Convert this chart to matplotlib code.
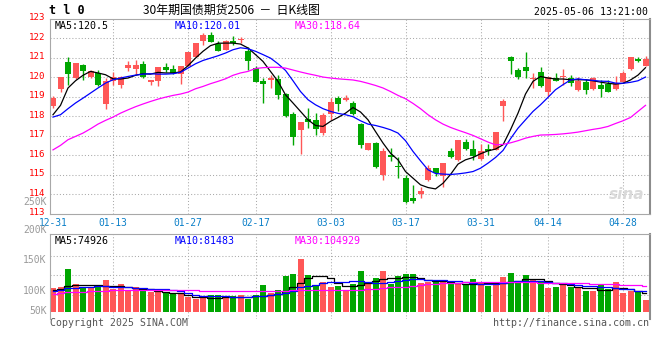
import matplotlib
matplotlib.use("Agg")
import matplotlib.pyplot as plt
from matplotlib.transforms import ScaledTranslation

# daily bars 2024-12-31 .. 2025-05-06 (T2506)
opens = [118.50, 119.38, 120.77, 119.95, 120.62, 119.98, 120.21, 118.62, 119.81, 119.61,
         120.46, 120.41, 120.68, 119.73, 119.81, 120.51, 120.43, 120.15, 120.58, 121.04,
         121.86, 122.17, 121.69, 121.40, 121.83, 121.88, 121.35, 120.46, 119.81, 119.86,
         119.91, 119.13, 118.10, 117.30, 117.85, 117.78, 117.13, 118.10, 118.92, 118.82,
         118.67, 117.59, 116.27, 116.62, 114.99, 116.02, 115.45, 114.85, 113.79, 114.02,
         114.74, 115.33, 114.91, 116.22, 115.76, 116.67, 116.31, 115.81, 116.31, 116.27,
         118.50, 121.03, 120.34, 120.51, 119.88, 120.26, 119.26, 119.95, 119.98, 119.95,
         119.35, 119.74, 119.40, 119.61, 119.64, 119.40, 119.74, 120.41, 120.92, 120.55]
highs = [119.01, 119.98, 121.03, 120.72, 120.67, 120.38, 120.38, 119.95, 120.24, 120.03,
         120.80, 120.87, 120.80, 119.86, 120.51, 120.72, 120.63, 120.55, 121.30, 121.74,
         122.26, 122.31, 121.83, 121.88, 122.09, 122.03, 121.52, 120.55, 119.95, 120.09,
         120.09, 119.18, 118.19, 117.69, 118.41, 118.15, 118.15, 118.92, 119.01, 119.06,
         118.75, 117.64, 116.62, 116.67, 116.36, 116.36, 115.93, 114.99, 114.48, 114.36,
         115.50, 115.36, 115.59, 116.36, 116.79, 116.84, 116.79, 116.56, 116.56, 117.18,
         118.89, 121.09, 120.46, 121.28, 120.21, 120.51, 120.00, 120.21, 120.41, 120.09,
         119.98, 119.91, 119.98, 119.86, 119.86, 120.03, 120.29, 121.01, 121.03, 121.06]
lows = [118.41, 119.23, 119.61, 119.91, 119.86, 119.95, 119.52, 118.38, 119.61, 119.44,
        120.29, 120.17, 119.95, 119.61, 119.56, 120.26, 120.15, 119.66, 120.58, 121.04,
        121.66, 121.81, 121.32, 121.40, 121.62, 121.74, 120.38, 119.74, 118.67, 119.44,
        118.89, 117.95, 116.53, 116.07, 117.38, 117.04, 117.04, 117.81, 118.27, 118.75,
        118.07, 116.36, 116.27, 115.33, 114.74, 115.71, 114.85, 113.54, 113.54, 113.79,
        114.65, 114.91, 114.39, 115.85, 115.71, 116.27, 115.76, 115.76, 116.02, 116.24,
        117.76, 120.17, 119.91, 119.95, 119.44, 119.47, 119.04, 119.78, 119.61, 119.52,
        119.30, 119.13, 119.35, 118.97, 119.23, 119.35, 119.74, 120.38, 120.77, 120.55]
closes = [118.92, 119.98, 120.15, 120.72, 120.29, 120.32, 119.61, 119.81, 119.98, 119.98,
          120.62, 120.62, 119.98, 119.86, 120.51, 120.34, 120.21, 120.55, 121.30, 121.74,
          122.17, 121.81, 121.35, 121.83, 121.76, 121.97, 120.80, 119.74, 119.66, 119.95,
          119.09, 117.98, 116.91, 117.69, 117.69, 117.35, 118.07, 118.72, 118.62, 118.92,
          118.10, 116.53, 116.62, 115.37, 116.22, 115.88, 115.37, 113.62, 113.66, 114.14,
          115.33, 115.08, 115.59, 115.88, 116.79, 116.31, 115.98, 116.19, 116.19, 117.18,
          118.79, 120.80, 120.00, 120.32, 119.95, 119.52, 120.00, 119.78, 120.03, 119.69,
          119.78, 119.35, 119.95, 119.40, 119.26, 119.69, 120.21, 121.01, 120.80, 120.92]

ma5 = [118.07, 118.55, 119.44, 119.81, 120.09, 120.29, 120.21, 120.12, 119.91, 119.90,
       119.95, 120.09, 120.17, 120.15, 120.24, 120.21, 120.21, 120.26, 120.58, 120.97,
       121.32, 121.61, 121.73, 121.74, 121.74, 121.69, 121.49, 121.15, 120.80, 120.29,
       119.78, 119.09, 118.67, 118.24, 117.81, 117.52, 117.47, 117.73, 117.93, 118.15,
       118.44, 118.21, 117.81, 117.21, 116.62, 116.10, 115.76, 115.16, 114.82, 114.48,
       114.34, 114.27, 114.56, 115.01, 115.54, 115.76, 115.88, 116.07, 116.22, 116.31,
       116.53, 117.30, 118.15, 119.13, 119.78, 120.03, 119.95, 119.90, 119.90, 119.86,
       119.86, 119.86, 119.81, 119.74, 119.68, 119.64, 119.68, 119.85, 120.10, 120.48]
ma10 = [117.95, 118.07, 118.38, 118.67, 118.92, 119.18, 119.44, 119.69, 119.86, 119.95,
        120.03, 120.10, 120.15, 120.17, 120.15, 120.15, 120.17, 120.24, 120.46, 120.68,
        120.85, 120.97, 121.09, 121.23, 121.40, 121.50, 121.45, 121.32, 121.15, 120.97,
        120.68, 120.34, 119.81, 119.26, 118.84, 118.58, 118.38, 118.24, 118.14, 118.07,
        117.97, 117.76, 117.59, 117.52, 117.42, 117.30, 117.13, 116.74, 116.19, 115.71,
        115.25, 115.06, 115.03, 115.01, 115.04, 115.09, 115.16, 115.33, 115.59, 115.88,
        116.24, 116.84, 117.38, 117.81, 118.24, 118.58, 118.96, 119.35, 119.61, 119.85,
        119.91, 119.86, 119.83, 119.79, 119.78, 119.69, 119.68, 119.73, 119.81, 120.00]
ma30 = [116.27, 116.50, 116.79, 116.96, 117.13, 117.35, 117.59, 117.78, 117.95, 118.15,
        118.32, 118.48, 118.62, 118.75, 118.87, 118.97, 119.06, 119.13, 119.23, 119.40,
        119.52, 119.66, 119.78, 119.91, 120.09, 120.21, 120.29, 120.44, 120.48, 120.50,
        120.50, 120.46, 120.36, 120.26, 120.17, 120.09, 120.00, 119.95, 119.91, 119.88,
        119.85, 119.78, 119.68, 119.57, 119.44, 119.26, 119.06, 118.89, 118.65, 118.38,
        118.07, 117.81, 117.59, 117.42, 117.28, 117.15, 117.01, 116.84, 116.67, 116.53,
        116.55, 116.63, 116.74, 116.87, 116.96, 117.03, 117.04, 117.06, 117.09, 117.13,
        117.18, 117.25, 117.32, 117.38, 117.47, 117.62, 117.76, 117.93, 118.24, 118.55]

# volume in thousands of lots
vol = [95.4, 100.8, 172.9, 111.7, 98.1, 98.1, 103.5, 128.0, 91.3, 111.7,
       87.2, 98.1, 91.3, 80.4, 88.6, 75.0, 70.9, 75.0, 60.0, 50.5,
       64.1, 66.8, 66.8, 64.1, 64.1, 68.2, 50.5, 68.2, 107.6, 75.0,
       87.2, 145.7, 152.5, 213.7, 148.4, 107.6, 118.5, 100.8, 104.9, 87.2,
       111.7, 166.1, 111.7, 136.2, 166.1, 111.7, 145.7, 152.5, 152.5, 115.8,
       121.2, 125.3, 122.6, 111.7, 111.7, 111.7, 132.1, 114.4, 104.9, 114.4,
       141.6, 156.6, 122.6, 149.8, 132.1, 118.5, 95.4, 98.1, 114.4, 98.1,
       98.1, 84.5, 84.5, 107.6, 91.3, 121.2, 75.0, 84.5, 80.4, 46.4]
vol_ma5 = [85.8, 91.3, 104.9, 109, 109, 109, 109, 106, 105, 103.5,
           98, 95, 92.6, 90, 84.5, 79, 76, 73.6, 65.4, 60,
           58.6, 56, 54.6, 57.3, 57.3, 58.6, 60, 62.7, 64, 66.8,
           71, 81.8, 100.8, 114.4, 136, 145.7, 145.7, 136, 117, 106,
           104.9, 109, 114.4, 125.3, 133.4, 136, 136, 139, 139, 136,
           128, 125.3, 122.6, 118.5, 114.4, 111.7, 111.7, 111.7, 114.4, 114.4,
           115.8, 119.8, 122.6, 130.7, 132.1, 130.7, 125.3, 117, 111.7, 106.2,
           100.8, 96.7, 94, 88.6, 88.6, 96.7, 95.4, 91.3, 84.5, 76.3]
vol_ma10 = [84.5, 88.6, 95.4, 96.7, 98.1, 99.4, 102.2, 102.2, 100.8, 100.8,
            99.4, 96.7, 94, 91.3, 91.3, 90, 85.8, 83.1, 73.6, 68.2,
            64.1, 64.1, 62.7, 61.4, 60, 60, 60, 61.4, 62.7, 65.4,
            69.5, 73.6, 81.8, 98.1, 102.2, 107.6, 114.4, 118.5, 119.8, 121.2,
            123.9, 123.9, 121.2, 114.4, 117, 119.8, 122.6, 126.6, 130.7, 132.1,
            129.4, 128, 128, 125.3, 122.6, 118.5, 115.8, 111.7, 111.7, 111.7,
            114.4, 118.5, 122.6, 123.9, 125.3, 122.6, 118.5, 117, 115.8, 111.7,
            106.2, 103.5, 102.2, 98.1, 98.1, 95.4, 92.6, 90, 84.5, 81.8]
vol_ma30 = [70.9, 75, 77.7, 79, 80.4, 81.8, 84.5, 84.5, 85.8, 87.2,
            87.2, 88.6, 88.6, 88.6, 88.6, 88.6, 88.6, 88.6, 88.6, 88.6,
            84.5, 84.5, 83.1, 83.1, 81.8, 81.8, 81.8, 81.8, 83.1, 83.1,
            84.5, 84.5, 85.8, 87.2, 87.2, 87.2, 87.2, 85.8, 87.2, 87.2,
            88.6, 88.6, 90, 92.6, 95.4, 98.1, 98.1, 100.8, 103.5, 107.6,
            110.3, 113, 114.4, 117, 117, 118.5, 118.5, 118.5, 119.8, 119.8,
            121.2, 121.2, 119.8, 118.5, 118.5, 117, 117, 115.8, 115.8, 114.4,
            114.4, 114.4, 113, 113, 111.7, 110.3, 109, 107.6, 106.2, 103.5]

date_labels = ["12-31", "01-13", "01-27", "02-17", "03-03", "03-17", "03-31", "04-14", "04-28"]
date_pos = [0, 8, 18, 27, 37, 47, 57, 66, 76]
price_ticks = list(range(113, 124))
vol_labels = ["250K", "200K", "150K", "100K", "50K"]

RED = "#ff5757"
GREEN = "#00a600"
GRID = "#aaaaaa"
MONO = "DejaVu Sans Mono"

W, H = 660, 360
fig = plt.figure(figsize=(6.6, 3.6), dpi=100)
fig.patch.set_facecolor("white")

def fx(px):
    return px / W

def fy(py):
    return 1 - py / H

n = len(closes)
x = list(range(n))
cols = [RED if c >= o else GREEN for o, c in zip(opens, closes)]

# ---------------- price panel ----------------
ax = fig.add_axes([fx(50), fy(213.7), fx(600), 195.2 / H])
ax.vlines(x, lows, highs, colors=cols, linewidth=1)
bodies = [max(abs(c - o), 0.04) for o, c in zip(opens, closes)]
bottoms = [min(o, c) for o, c in zip(opens, closes)]
ax.bar(x, bodies, bottom=bottoms, width=0.8, color=cols, linewidth=0)
ax.plot(x, ma5, color="black", lw=0.9)
ax.plot(x, ma10, color="#0000ff", lw=0.9)
ax.plot(x, ma30, color="#ff00ff", lw=0.9)
ax.set_xlim(-0.4, n - 0.4)
ax.set_ylim(113, 123)

ax.set_yticks(price_ticks)
ax.set_yticklabels([str(t) for t in price_ticks], color="red", fontsize=6.6, family=MONO)
ax.set_xticks(date_pos)
ax.set_xticklabels(date_labels, color="#0a7fc8", fontsize=6.9, family=MONO)
ax.tick_params(axis="both", length=0)
ax.tick_params(axis="y", pad=3)
ax.tick_params(axis="x", pad=3)
off = ScaledTranslation(0, 0.02, fig.dpi_scale_trans)
for lab in ax.get_yticklabels():
    lab.set_transform(lab.get_transform() + off)
for t in price_ticks[1:-1]:
    ax.axhline(t, color=GRID, lw=0.75, ls=(0, (1, 2)), zorder=0)
for p in date_pos[1:]:
    ax.axvline(p, color=GRID, lw=0.75, ls=(0, (1, 2)), zorder=0)
for s in ax.spines.values():
    s.set_color("#a8a8a8")
    s.set_linewidth(0.8)
ax.spines["right"].set_color("#8c8c8c")
ax.spines["right"].set_linewidth(1.5)

ax.text(0.007, 0.985, "MA5:120.5", transform=ax.transAxes, va="top", ha="left",
        fontsize=7.2, family=MONO, color="black")
ax.text(0.207, 0.985, "MA10:120.01", transform=ax.transAxes, va="top", ha="left",
        fontsize=7.2, family=MONO, color="#0000ff")
ax.text(0.408, 0.985, "MA30:118.64", transform=ax.transAxes, va="top", ha="left",
        fontsize=7.2, family=MONO, color="#ff00ff")
ax.text(0.99, 0.06, "sina", transform=ax.transAxes, ha="right", va="bottom",
        fontsize=11, style="italic", weight="bold", color="#d9d9d9", zorder=0)

# ---------------- volume panel ----------------
av = fig.add_axes([fx(50), fy(319), fx(600), 85 / H])
av.bar(x, vol, width=0.8, color=cols, linewidth=0)
av.plot(x, vol_ma5, color="black", lw=0.9, drawstyle="steps-mid")
av.plot(x, vol_ma10, color="#0000ff", lw=0.9, drawstyle="steps-mid")
av.plot(x, vol_ma30, color="#ff00ff", lw=0.9, drawstyle="steps-mid")
av.set_xlim(-0.4, n - 0.4)
av.set_ylim(-30.6, 316.2)
av.set_xticks([])
av.set_yticks([])
for p in date_pos[1:]:
    av.axvline(p, color=GRID, lw=0.75, ls=(0, (1, 2)), zorder=0)
for fr in [(319 - 255.7) / 85, (319 - 275) / 85, (319 - 295) / 85]:
    av.plot([0, 1], [fr, fr], transform=av.transAxes, color=GRID, lw=0.75,
            ls=(0, (1, 2)), zorder=0)
for s in av.spines.values():
    s.set_color("#a8a8a8")
    s.set_linewidth(0.8)
av.spines["bottom"].set_visible(False)
av.spines["right"].set_color("#8c8c8c")
av.spines["right"].set_linewidth(1.5)

av.text(0.007, 0.98, "MA5:74926", transform=av.transAxes, va="top", ha="left",
        fontsize=7.2, family=MONO, color="black")
av.text(0.207, 0.98, "MA10:81483", transform=av.transAxes, va="top", ha="left",
        fontsize=7.2, family=MONO, color="#0000ff")
av.text(0.408, 0.98, "MA30:104929", transform=av.transAxes, va="top", ha="left",
        fontsize=7.2, family=MONO, color="#ff00ff")

for lab, py in zip(vol_labels, [202, 230, 260, 290.5, 311]):
    fig.text(fx(46.5), fy(py), lab, ha="right", va="center", fontsize=7,
             family=MONO, color="#9a9a9a")

# ---------------- header / footer ----------------
fig.text(fx(49), fy(10), "t l 0", ha="left", va="center", fontsize=8.5,
         family=MONO, weight="bold", color="black")
fig.text(fx(231), fy(10), "30年期国债期货2506  －  日K线图", ha="center", va="center",
         fontsize=8.6, family=["Noto Sans CJK SC", "DejaVu Sans"], color="black")
fig.text(fx(648.5), fy(12), "2025-05-06 13:21:00", ha="right", va="center",
         fontsize=7.1, family=MONO, color="black")
fig.text(fx(50), fy(323.5), "Copyright 2025 SINA.COM", ha="left", va="center",
         fontsize=7.1, family=MONO, color="#555555")
fig.text(fx(649), fy(323.5), "http://finance.sina.com.cn", ha="right", va="center",
         fontsize=7.2, family=MONO, color="#555555")

fig.savefig("out.png", dpi=100)
